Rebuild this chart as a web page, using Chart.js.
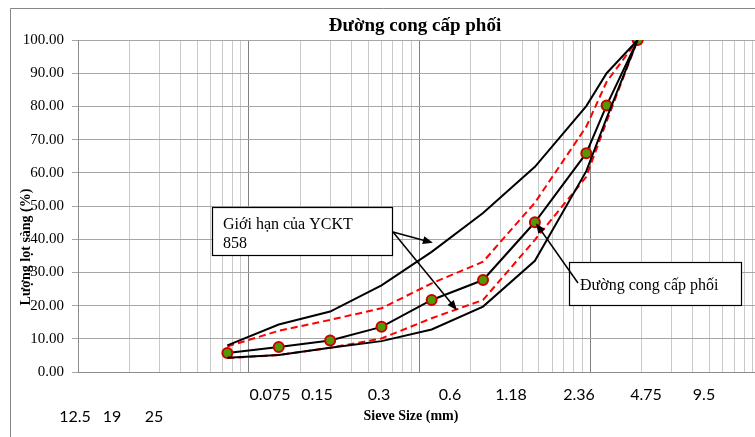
<!DOCTYPE html>
<html>
<head>
<meta charset="utf-8">
<script src="https://cdn.jsdelivr.net/npm/chart.js@4/dist/chart.umd.min.js"></script>
<style>
html,body{margin:0;padding:0;background:#fff;}
#wrap{width:755px;height:437px;position:relative;}
</style>
</head>
<body>
<div id="wrap"><canvas id="c" width="755" height="437"></canvas></div>
<script>
// Sieve sizes (mm)
const sieves = [0.075, 0.15, 0.3, 0.6, 1.18, 2.36, 4.75, 9.5, 12.5, 19];
// Gradation curve (% passing)
const passing = [5.7, 7.5, 9.5, 13.6, 21.7, 27.7, 45.1, 65.9, 80.3, 100];
// Specification limits (YCKT 858)
const upperLimit = [8.0, 14.3, 18.2, 26.1, 36.2, 47.9, 61.8, 80.1, 90.0, 100];
const lowerLimit = [4.3, 5.1, 7.3, 9.3, 12.8, 19.7, 33.5, 60.5, 76.5, 100];
// Tolerance band (red dashed)
const upperTol = [7.7, 12.4, 15.7, 19.2, 26.7, 33.2, 51.0, 73.9, 87.4, 100];
const lowerTol = [4.2, 5.1, 7.3, 10.1, 16.2, 21.7, 39.8, 58.8, 75.5, 100];
// Tick labels as printed
const yTicks = [0, 10, 20, 30, 40, 50, 60, 70, 80, 90, 100];
const xLabelsRow1 = ['0.075', '0.15', '0.3', '0.6', '1.18', '2.36', '4.75', '9.5'];
const xLabelsRow2 = ['12.5', '19', '25'];
const titleText = 'Đường cong cấp phối';
const yTitle = 'Lượng lọt sàng (%)';
const xTitle = 'Sieve Size (mm)';
const note1 = ['Giới hạn của YCKT', '858'];
const note2 = 'Đường cong cấp phối';

// layout (presentation only)
const xRow1Pos = [270, 317, 379, 450, 511, 579, 646, 704];
const xRow2Pos = [75, 112, 154];

function pts(arr){ return sieves.map((s,i)=>({x:s, y:arr[i]})); }

const gridTicks = [];
for (let e = -2; e <= 1; e++) for (let m = 1; m <= 9; m++) gridTicks.push(+(m * Math.pow(10, e)).toPrecision(3));

function arrow(ctx, x1, y1, x2, y2){
  const a = Math.atan2(y2 - y1, x2 - x1);
  const L = 10, W = 4;
  ctx.beginPath(); ctx.moveTo(x1, y1);
  ctx.lineTo(x2 - L*Math.cos(a)*0.8, y2 - L*Math.sin(a)*0.8); ctx.stroke();
  ctx.beginPath();
  ctx.moveTo(x2, y2);
  ctx.lineTo(x2 - L*Math.cos(a) + W*Math.sin(a), y2 - L*Math.sin(a) - W*Math.cos(a));
  ctx.lineTo(x2 - L*Math.cos(a) - W*Math.sin(a), y2 - L*Math.sin(a) + W*Math.cos(a));
  ctx.closePath(); ctx.fill();
}

const decor = {
  id: 'decor',
  beforeDraw(chart){
    const ctx = chart.ctx;
    ctx.save();
    ctx.fillStyle = '#fff'; ctx.fillRect(0,0,chart.width,chart.height);
    ctx.strokeStyle = '#868686'; ctx.lineWidth = 1;
    ctx.beginPath(); ctx.moveTo(10.5, 440); ctx.lineTo(10.5, 8.5); ctx.lineTo(760, 8.5); ctx.stroke();
    ctx.restore();
  },
  afterDraw(chart){
    const ctx = chart.ctx, xs = chart.scales.x, ys = chart.scales.y;
    ctx.save();
    ctx.fillStyle = '#000';
    ctx.textBaseline = 'alphabetic';
    // title
    ctx.font = 'bold 19px "Liberation Serif"'; ctx.textAlign = 'center';
    ctx.fillText(titleText, 415, 31);
    // x labels
    ctx.font = '16px Lato';
    xLabelsRow1.forEach((t,i)=>ctx.fillText(t, xRow1Pos[i], 400));
    xLabelsRow2.forEach((t,i)=>ctx.fillText(t, xRow2Pos[i], 422));
    // x title
    ctx.font = 'bold 14px "Liberation Serif"';
    ctx.fillText(xTitle, 411, 420);
    // y title
    ctx.save(); ctx.translate(30, 247); ctx.rotate(-Math.PI/2);
    ctx.fillText(yTitle, 0, 0); ctx.restore();
    // annotation boxes
    ctx.lineWidth = 1.2; ctx.strokeStyle = '#000';
    ctx.fillStyle = '#fff';
    ctx.fillRect(212, 207, 181, 49); ctx.strokeRect(212.5, 207.5, 180, 48);
    ctx.fillRect(569, 262, 173, 44); ctx.strokeRect(569.5, 262.5, 172, 43);
    ctx.fillStyle = '#000'; ctx.textAlign = 'left';
    ctx.font = '16px "Liberation Serif"';
    ctx.fillText(note1[0], 223, 229);
    ctx.fillText(note1[1], 223, 248);
    ctx.fillText(note2, 580, 290);
    // arrows
    ctx.lineWidth = 1.5;
    const ax = 393, ay = 232;
    arrow(ctx, ax, ay, xs.getPixelForValue(1.2), ys.getPixelForValue(38.9));
    arrow(ctx, ax, ay, xs.getPixelForValue(1.66), ys.getPixelForValue(18.6));
    arrow(ctx, 578, 283, xs.getPixelForValue(sieves[6]) + 1, ys.getPixelForValue(passing[6]) + 1);
    ctx.restore();
  }
};

const lineBase = {fill:false, tension:0, pointRadius:0, pointHoverRadius:0, borderWidth:2};

new Chart(document.getElementById('c'), {
  type: 'line',
  data: {
    datasets: [
      Object.assign({}, lineBase, {label:'Upper limit', data: pts(upperLimit), borderColor:'#000'}),
      Object.assign({}, lineBase, {label:'Lower limit', data: pts(lowerLimit), borderColor:'#000'}),
      Object.assign({}, lineBase, {label:'Upper tol', data: pts(upperTol), borderColor:'#ff0000', borderDash:[7,4]}),
      Object.assign({}, lineBase, {label:'Lower tol', data: pts(lowerTol), borderColor:'#ff0000', borderDash:[7,4]}),
      Object.assign({}, lineBase, {label:'Gradation', data: pts(passing), borderColor:'#000',
        pointRadius:5, pointBackgroundColor:'#4f9a00', pointBorderColor:'#cc0000', pointBorderWidth:2})
    ]
  },
  options: {
    responsive:false, animation:false, devicePixelRatio:1,
    layout:{autoPadding:false, padding:{top:40, left:0, right:0, bottom:0}},
    plugins:{legend:{display:false}, tooltip:{enabled:false}, title:{display:false}},
    scales:{
      x:{
        type:'logarithmic', min:0.01, max:92.5,
        afterBuildTicks(s){ s.ticks = gridTicks.map(v=>({value:v})); },
        afterFit(s){ s.height = 65; s.paddingLeft = 0; s.paddingRight = 0; },
        ticks:{display:false},
        grid:{
          drawTicks:false,
          color(c){ const v = c.tick ? c.tick.value : 1; const l = Math.log10(v); return Math.abs(l - Math.round(l)) < 1e-6 ? '#808080' : '#c9c9c9'; },
          lineWidth:1
        },
        border:{display:true, color:'#8c8c8c'}
      },
      y:{
        type:'linear', min:0, max:100,
        afterBuildTicks(s){ s.ticks = yTicks.map(v=>({value:v})); },
        afterFit(s){ s.width = 78; },
        ticks:{color:'#000', font:{family:'"Liberation Serif"', size:15}, padding:8, callback:v=>Number(v).toFixed(2)},
        grid:{color:'#a6a6a6', tickLength:6, lineWidth:1},
        border:{display:true, color:'#8c8c8c'}
      }
    }
  },
  plugins:[decor]
});
</script>
</body>
</html>
